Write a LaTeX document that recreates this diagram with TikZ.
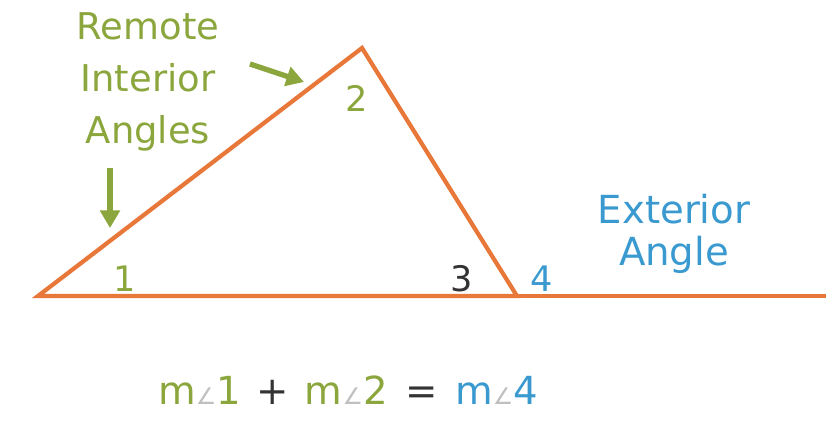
\documentclass[tikz,border=0pt]{standalone}
\usepackage{fontspec}
\setmainfont{DejaVu Sans}
\usepackage{xcolor}
\definecolor{edgeOrange}{HTML}{E8773A}
\definecolor{leafGreen}{HTML}{8BA63C}
\definecolor{skyBlue}{HTML}{3A9AD0}
\definecolor{inkDark}{HTML}{333333}
\usetikzlibrary{arrows.meta,positioning}
\newcommand{\ang}{{\fontsize{13}{13}\selectfont\textcolor{gray!50}{∠}}}

\begin{document}
\begin{tikzpicture}[
  x=0.02cm,y=-0.02cm,
  edge/.style={draw=edgeOrange,line width=2.4pt},
  pointer/.style={draw=leafGreen,line width=3pt,-{Triangle[length=10pt,width=11pt]}},
  lbl/.style={font=\fontsize{21}{29.5}\selectfont,inner sep=0pt,align=center},
  num/.style={font=\fontsize{20}{20}\selectfont,inner sep=0pt}
]
\useasboundingbox (0,0) rectangle (826,428);
\coordinate (A) at (38,296);
\coordinate (B) at (362,48);
\coordinate (C) at (517,296);
\coordinate (E) at (826,296);
\draw[edge] (A)--(B)--(C)--cycle;
\draw[edge] (C)--(E);
% labels
\node[lbl,text=leafGreen] (remote) at (148,82) {Remote\\Interior\\Angles};
\node[lbl,text=skyBlue,font=\fontsize{22}{24}\selectfont] (exterior) at (674,234) {Exterior\\Angle};
\node[num,text=leafGreen] (one) at (125,279) {1};
\node[num,text=leafGreen] (two) at (357,98) {2};
\node[num,text=inkDark] (three) at (462,279) {3};
\node[num,text=skyBlue] (four) at (542,279) {4};
% green pointers
\coordinate (p1s) at (250,64); \coordinate (p1e) at (304,82);
\coordinate (p2s) at (110,168); \coordinate (p2e) at (110,228);
\draw[pointer] (p1s)--(p1e);
\draw[pointer] (p2s)--(p2e);
\node[num,font=\fontsize{22}{22}\selectfont] (eqn) at (348,390)
  {\textcolor{leafGreen}{m\ang1}\hspace{9pt}\textcolor{inkDark}{+}\hspace{9pt}\textcolor{leafGreen}{m\ang2}\hspace{10pt}\textcolor{inkDark}{=}\hspace{10pt}\textcolor{skyBlue}{m\ang4}};
\end{tikzpicture}
\end{document}
